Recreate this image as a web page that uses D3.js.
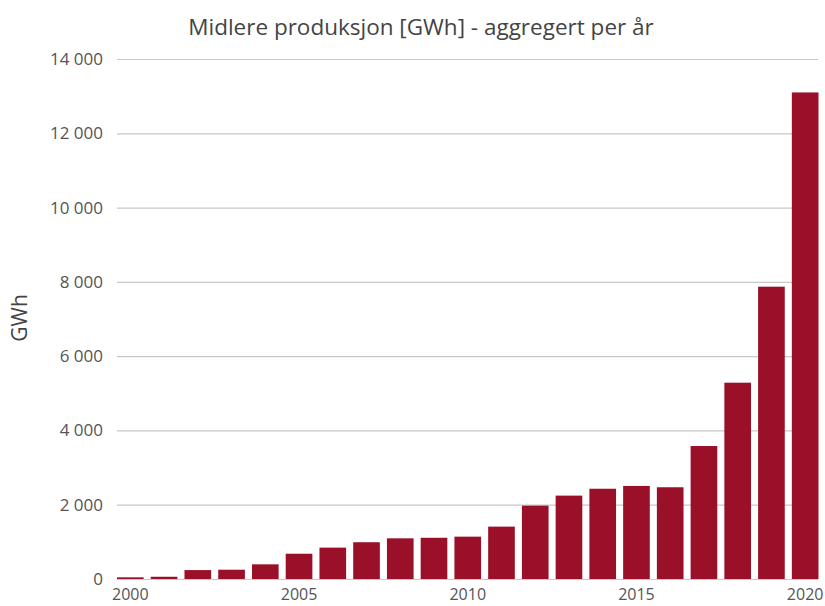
<!DOCTYPE html>
<html>
<head>
<meta charset="utf-8">
<script src="https://cdn.jsdelivr.net/npm/d3@7"></script>
<style>
  html, body { margin: 0; padding: 0; background: #fff; }
  svg { display: block; font-family: "Open Sans", "Noto Sans", sans-serif; }
</style>
</head>
<body>
<svg id="chart" width="825" height="606"></svg>
<script>
const years = [2000, 2001, 2002, 2003, 2004, 2005, 2006, 2007, 2008, 2009, 2010,
               2011, 2012, 2013, 2014, 2015, 2016, 2017, 2018, 2019, 2020];
const values = [45, 60, 240, 250, 395, 680, 845, 990, 1095, 1110, 1140,
                1410, 1975, 2245, 2430, 2505, 2470, 3580, 5285, 7870, 13100];
const yTicks = [0, 2000, 4000, 6000, 8000, 10000, 12000, 14000];
const xTickYears = [2000, 2005, 2010, 2015, 2020];
const titleText = "Midlere produksjon [GWh] - aggregert per år";
const yAxisTitle = "GWh";

(function () {
const svg = d3.select("#chart");
const mLeft = 117, mRight = 818.5, mTop = 59, mBottom = 579;

const x = d3.scaleBand().domain(years).range([mLeft, mRight]).paddingInner(0.21).paddingOuter(0);
const y = d3.scaleLinear().domain([0, 14000]).range([mBottom, mTop]);

const fmt = v => d3.format(",")(v).replace(/,/g, " ");

// gridlines + y labels
const yAxis = d3.axisLeft(y).tickValues(yTicks).tickSize(-(818 - mLeft)).tickFormat(fmt).tickPadding(14);
const gy = svg.append("g").attr("transform", `translate(${mLeft},0)`).call(yAxis);
gy.select(".domain").remove();
gy.selectAll(".tick line").attr("stroke", "#c8c8c8").attr("stroke-width", 1.2);
gy.selectAll(".tick text").attr("fill", "#555").style("font-size", "17px").style("font-family", "'Open Sans', sans-serif");

// bars
svg.append("g").selectAll("rect")
  .data(years.map((yr, i) => ({yr, v: values[i]})))
  .join("rect")
  .attr("x", d => x(d.yr))
  .attr("width", x.bandwidth())
  .attr("y", d => y(d.v))
  .attr("height", d => y(0) - y(d.v))
  .attr("fill", "#9a1029");

// x axis
const xAxis = d3.axisBottom(x).tickValues(xTickYears).tickSize(0).tickPadding(10);
const gx = svg.append("g").attr("transform", `translate(0,${mBottom})`).call(xAxis);
gx.select(".domain").remove();
gx.selectAll(".tick text").attr("fill", "#555").style("font-size", "16px").style("font-family", "'Open Sans', sans-serif");

// title
svg.append("text")
  .attr("x", 421).attr("y", 35)
  .attr("text-anchor", "middle")
  .attr("fill", "#444")
  .style("font-size", "22.5px")
  .text(titleText);

// y axis title
svg.append("text")
  .attr("transform", "translate(27,318) rotate(-90)")
  .attr("text-anchor", "middle")
  .attr("fill", "#444")
  .style("font-size", "21px")
  .text(yAxisTitle);
})();
</script>
</body>
</html>
